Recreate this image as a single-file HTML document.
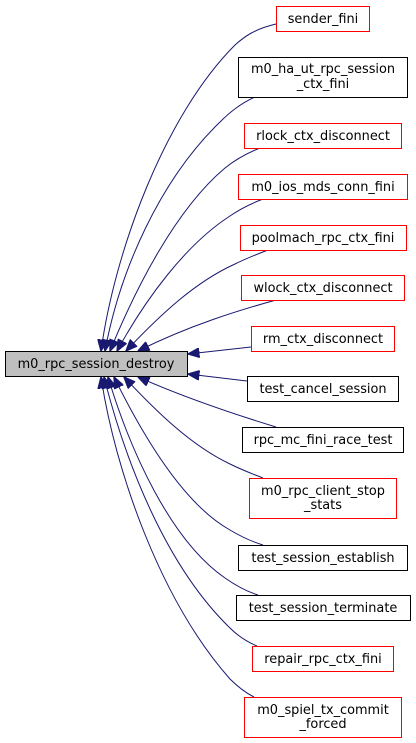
<!DOCTYPE html>
<html><head><meta charset="utf-8"><style>
html,body{margin:0;padding:0;background:#fff;width:416px;height:743px;overflow:hidden}
text{font-family:"DejaVu Sans","Liberation Sans",sans-serif;font-size:12.9px;fill:#000}
</style></head><body>
<svg width="416" height="743" viewBox="0 0 416 743" xmlns="http://www.w3.org/2000/svg">
<defs><marker id="a" markerWidth="12" markerHeight="10" refX="11.5" refY="5" orient="auto" markerUnits="userSpaceOnUse"><path d="M0,0 L12,5 L0,10 Z" fill="#191970" stroke="#191970"/></marker></defs>
<g fill="none" stroke="#191970" stroke-width="1" marker-end="url(#a)">
<path d="M276,24 C255,29 245,36 235,45 C165,115 115,250 101,351"/>
<path d="M255,97 C240,104 230,112 220,122 C160,180 120,270 105,351"/>
<path d="M260,148 C245,154 235,160 225,168 C175,210 135,290 110,351"/>
<path d="M263,199 C250,204 240,209 230,216 C185,245 145,300 117,351"/>
<path d="M268,250 C255,255 245,259 235,264 C195,282 160,315 126,351"/>
<path d="M276,300 C240,310 190,325 138,351"/>
<path d="M251,347 L188,354"/>
<path d="M247,381 L188,374"/>
<path d="M276,427 C240,416 190,400 138,377"/>
<path d="M263,478 C250,473 240,469 230,464 C190,445 155,410 124,377"/>
<path d="M263,545 C250,541 240,536 230,530 C185,505 145,440 114,377"/>
<path d="M258,595 C245,591 235,585 225,578 C170,540 130,450 108,377"/>
<path d="M257,646 C245,641 237,635 230,628 C165,565 125,460 104,377"/>
<path d="M254,697 C244,692 237,686 230,679 C160,600 115,470 101,377"/>
</g>
<g stroke-width="1">
<rect x="5.5" y="351.5" width="182" height="25" fill="#bfbfbf" stroke="#000"/>
<g fill="#fff" stroke="#ff0000">
<rect x="276.5" y="6.5" width="93" height="25"/>
<rect x="244.5" y="123.5" width="157" height="25"/>
<rect x="238.5" y="174.5" width="169" height="25"/>
<rect x="240.5" y="225.5" width="166" height="25"/>
<rect x="241.5" y="275.5" width="163" height="25"/>
<rect x="251.5" y="326.5" width="143" height="25"/>
<rect x="249.5" y="478.5" width="147" height="40"/>
<rect x="252.5" y="646.5" width="141" height="25"/>
<rect x="244.5" y="697.5" width="157" height="40"/>
</g>
<g fill="#fff" stroke="#000">
<rect x="238.5" y="57.5" width="169" height="40"/>
<rect x="247.5" y="376.5" width="151" height="25"/>
<rect x="242.5" y="427.5" width="161" height="25"/>
<rect x="238.5" y="545.5" width="169" height="25"/>
<rect x="236.5" y="595.5" width="174" height="25"/>
</g>
</g>
<g text-anchor="middle">
<text x="96" y="368">m0_rpc_session_destroy</text>
<text x="323" y="23">sender_fini</text>
<text x="323" y="73">m0_ha_ut_rpc_session</text>
<text x="323" y="88">_ctx_fini</text>
<text x="323" y="140">rlock_ctx_disconnect</text>
<text x="323" y="191">m0_ios_mds_conn_fini</text>
<text x="323" y="242">poolmach_rpc_ctx_fini</text>
<text x="323" y="292">wlock_ctx_disconnect</text>
<text x="323" y="343">rm_ctx_disconnect</text>
<text x="323" y="393">test_cancel_session</text>
<text x="323" y="444">rpc_mc_fini_race_test</text>
<text x="323" y="495">m0_rpc_client_stop</text>
<text x="323" y="509">_stats</text>
<text x="323" y="562">test_session_establish</text>
<text x="323" y="612">test_session_terminate</text>
<text x="323" y="663">repair_rpc_ctx_fini</text>
<text x="323" y="714">m0_spiel_tx_commit</text>
<text x="323" y="728">_forced</text>
</g>
</svg>
</body></html>
